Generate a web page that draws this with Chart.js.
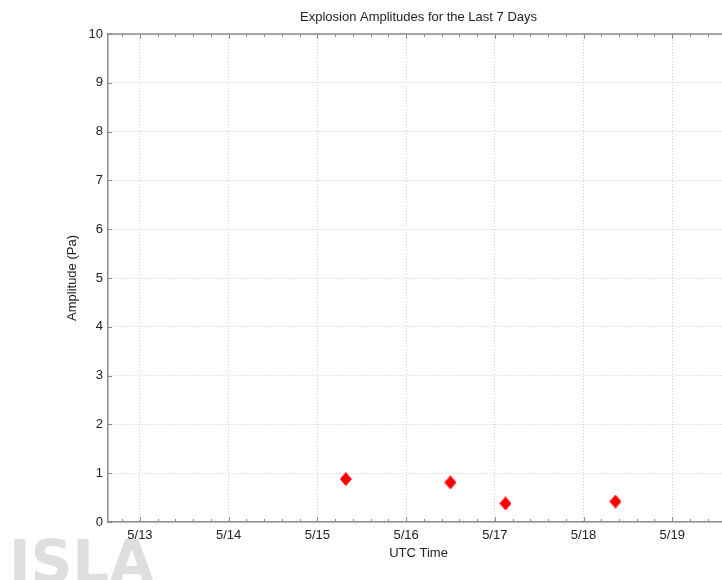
<!DOCTYPE html>
<html>
<head>
<meta charset="utf-8">
<script src="https://cdn.jsdelivr.net/npm/chart.js@4.4.1/dist/chart.umd.min.js"></script>
<style>
html, body { margin: 0; padding: 0; background: #fff; overflow: hidden; }
#wrap { width: 760px; height: 580px; }
</style>
</head>
<body>
<div id="wrap"><canvas id="amps" width="760" height="580"></canvas></div>
<script>
// explosion times (day of May, UTC, fractional) and their amplitudes in Pa
var eventDays = [15.32, 16.50, 17.12, 18.36];
var amplitudes = [0.88, 0.81, 0.38, 0.42];
var dayTicks = [13, 14, 15, 16, 17, 18, 19];
var ampTicks = [0, 1, 2, 3, 4, 5, 6, 7, 8, 9, 10];
var month = 5;
var xMin = 12.64, xMax = 19.64;

var points = eventDays.map(function(d, i) { return { x: d, y: amplitudes[i] }; });

var textFont = { family: '"Liberation Sans", Arial, sans-serif', size: 13 };
var axisGrey = '#8c8c8c';
var gridGrey = '#cfcfcf';

// slightly tall red diamond marker
function diamond(w, h) {
	var c = document.createElement('canvas');
	c.width = w;
	c.height = h;
	var g = c.getContext('2d');
	g.fillStyle = '#ff0000';
	g.beginPath();
	g.moveTo(w / 2, 0);
	g.lineTo(w, h / 2);
	g.lineTo(w / 2, h);
	g.lineTo(0, h / 2);
	g.closePath();
	g.fill();
	return c;
}

// faded station logo in the lower left corner
var logo = {
	id: 'logo',
	beforeDraw: function(chart) {
		var ctx = chart.ctx;
		ctx.save();
		ctx.fillStyle = '#dedede';
		ctx.font = 'bold 58px "DejaVu Sans", sans-serif';
		ctx.textBaseline = 'alphabetic';
		ctx.fillText('ISLA', 9, 582);
		ctx.restore();
	}
};

// matlab style box: top/right edges plus inward tick marks
var frame = {
	id: 'frame',
	afterDatasetsDraw: function(chart) {
		var ctx = chart.ctx, a = chart.chartArea;
		var xs = chart.scales.x, ys = chart.scales.y;
		ctx.save();
		ctx.strokeStyle = axisGrey;
		ctx.lineWidth = 1;
		ctx.beginPath();
		for (var k = Math.ceil(xMin * 5); k <= Math.floor(xMax * 5); k++) {
			var px = Math.round(xs.getPixelForValue(k / 5)) + 0.5;
			var len = (k % 5 === 0) ? 5 : 3;
			ctx.moveTo(px, a.bottom);
			ctx.lineTo(px, a.bottom - len);
			ctx.moveTo(px, a.top);
			ctx.lineTo(px, a.top + len);
		}
		ampTicks.forEach(function(v) {
			var py = Math.round(ys.getPixelForValue(v)) + 0.5;
			ctx.moveTo(a.left, py);
			ctx.lineTo(a.left + 4, py);
			ctx.moveTo(a.right, py);
			ctx.lineTo(a.right - 4, py);
		});
		ctx.stroke();
		ctx.lineWidth = 1.5;
		ctx.beginPath();
		ctx.moveTo(a.left, a.top);
		ctx.lineTo(a.right, a.top);
		ctx.lineTo(a.right, a.bottom);
		ctx.stroke();
		ctx.restore();
	}
};

new Chart(document.getElementById('amps'), {
	type: 'scatter',
	data: {
		datasets: [{
			data: points,
			pointStyle: diamond(12, 14),
			backgroundColor: '#ff0000',
			borderWidth: 0
		}]
	},
	options: {
		responsive: false,
		animation: false,
		layout: { padding: { left: 0, right: 31, top: 0, bottom: 0 } },
		plugins: {
			legend: { display: false },
			tooltip: { enabled: false },
			title: {
				display: true,
				text: 'Explosion Amplitudes for the Last 7 Days',
				fullSize: false,
				color: '#222',
				font: { family: textFont.family, size: 13, weight: 'normal' },
				padding: { top: 10, bottom: 8.4 }
			}
		},
		scales: {
			x: {
				type: 'linear',
				min: xMin,
				max: xMax,
				afterBuildTicks: function(s) { s.ticks = dayTicks.map(function(v) { return { value: v }; }); },
				afterFit: function(s) { s.height = 58; },
				ticks: {
					callback: function(v) { return month + '/' + v; },
					color: '#222',
					font: textFont,
					padding: 6,
					maxRotation: 0,
					autoSkip: false
				},
				grid: { color: gridGrey, drawTicks: false },
				border: { color: axisGrey, width: 1.5, dash: [1, 2] },
				title: { display: true, text: 'UTC Time', color: '#222', font: textFont, padding: { top: 0, bottom: 19 } }
			},
			y: {
				min: 0,
				max: 10,
				afterBuildTicks: function(s) { s.ticks = ampTicks.map(function(v) { return { value: v }; }); },
				afterFit: function(s) { s.width = 108; },
				ticks: { color: '#222', font: textFont, padding: 5 },
				grid: { color: gridGrey, drawTicks: false },
				border: { color: axisGrey, width: 1.5, dash: [1, 2] },
				title: { display: true, text: 'Amplitude (Pa)', color: '#222', font: textFont, padding: { top: 65, bottom: 0 } }
			}
		}
	},
	plugins: [logo, frame]
});
</script>
</body>
</html>
